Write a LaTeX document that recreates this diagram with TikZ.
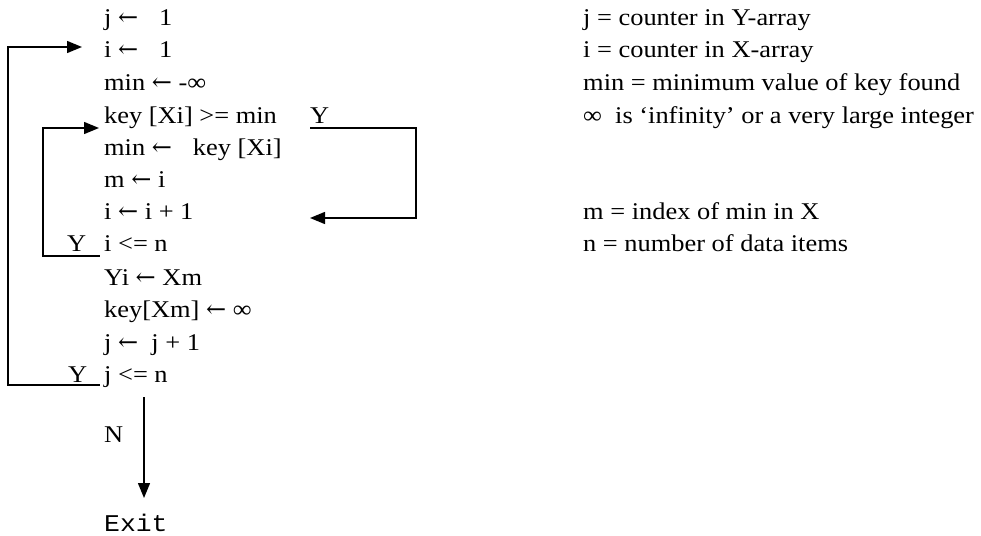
\documentclass[tikz,border=0pt]{standalone}
\usepackage{fontspec}
\setmainfont{Liberation Serif}[FakeStretch=1.1]
\setmonofont{Liberation Mono}[FakeStretch=1.1]
\newfontfamily\arrowfont{DejaVu Serif}
\newcommand{\getsto}{{\arrowfont ←}}
\usetikzlibrary{arrows.meta, positioning}
\begin{document}
\begin{tikzpicture}[
    x=1pt, y=-1pt,
    every node/.style={font=\fontsize{24}{28}\selectfont},
    stmt/.style={anchor=base west, inner sep=0pt},
    flow/.style={line width=1.4pt, -{Triangle[length=15pt, width=12pt]}},
    plain/.style={line width=1.4pt}
  ]
    \useasboundingbox (0,0) rectangle (981,535);

    \node[stmt] (jset) at (104,26) {j \getsto\hspace{21pt}1};
    \node[stmt] (iset) at (104,57) {i \getsto\hspace{21pt}1};
    \node[stmt] (minset) at (104,90) {min \getsto\ -∞};
    \node[stmt] (keyge) at (104,123) {key [Xi] >= min};
    \node[stmt] (minkey) at (104,155) {min \getsto\hspace{21pt}key [Xi]};
    \node[stmt] (mset) at (104,187) {m \getsto\ i};
    \node[stmt] (iinc) at (104,219) {i \getsto\ i + 1};
    \node[stmt] (ile) at (104,251) {i <= n};
    \node[stmt] (yset) at (104,285) {Yi \getsto\ Xm};
    \node[stmt] (keyinf) at (104,317) {key[Xm] \getsto\ ∞};
    \node[stmt] (jinc) at (104,350) {j \getsto\ \ j + 1};
    \node[stmt] (jle) at (104,382) {j <= n};
    \node[stmt] (no) at (104,442) {N};
    \node[stmt, font=\fontsize{24}{28}\ttfamily] (exit) at (104,531) {Exit};

    \node[stmt] (yright) at (310,123) {Y};
    \node[stmt] (yinner) at (67,251) {Y};
    \node[stmt] (youter) at (68,382) {Y};

    \node[stmt] (jnote) at (583,26) {j = counter in Y-array};
    \node[stmt] (inote) at (583,57) {i = counter in X-array};
    \node[stmt] (minnote) at (583,90) {min = minimum value of key found};
    \node[stmt] (infnote) at (583,123) {∞\ \ is ‘infinity’ or a very large integer};
    \node[stmt] (mnote) at (583,219) {m = index of min in X};
    \node[stmt] (nnote) at (583,251) {n = number of data items};

    \draw[flow] ([yshift=-3pt]youter.base west) -- ++(-60,0) |- ([xshift=-22pt, yshift=10pt]iset.base west);
    \draw[flow] ([yshift=-5pt]yinner.base west) -- ++(-24,0) |- ([xshift=-5pt, yshift=-5pt]keyge.base west);
    \draw[plain] ([yshift=-3pt]youter.base west) -- ([xshift=-4pt, yshift=-3pt]jle.base west);
    \draw[plain] ([yshift=-5pt]yinner.base west) -- ([xshift=-4pt, yshift=-5pt]ile.base west);
    \draw[flow] ([yshift=-5pt]yright.base west) -- ++(106,0) |- ([yshift=1pt]yright.base west |- iinc.base);
    \draw[flow] ([xshift=40pt, yshift=-15pt]jle.base west) -- ([xshift=40pt, yshift=33pt]exit.base west);
  \end{tikzpicture}
\end{document}
